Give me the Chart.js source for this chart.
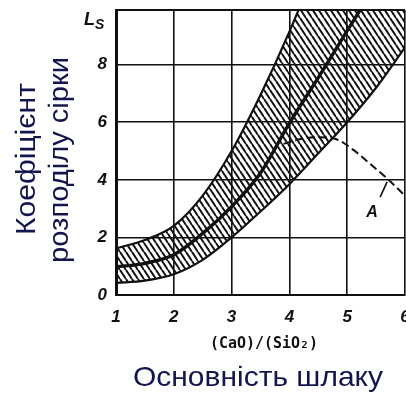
<!DOCTYPE html>
<html>
<head>
<meta charset="utf-8">
<script src="https://cdn.jsdelivr.net/npm/chart.js@4.4.1/dist/chart.umd.min.js"></script>
<style>html,body{margin:0;padding:0;background:#fff}canvas{display:block}</style>
</head>
<body>
<canvas id="lsChart" width="406" height="393"></canvas>
<script>
// basicity (CaO)/(SiO2) and sulphur partition Ls
const basicity=[1,1.5,2,2.5,3,3.5,4,4.5,5,5.5,6];
const lsMid  =[0.98,1.10,1.40,2.14,3.07,4.24,5.97,7.55,9.18,10.8,12.5];
const lsUpper=[1.62,1.91,2.40,3.45,5.00,6.95,9.15,11.6,14.3,17.2,20.2];
const lsLower=[0.42,0.50,0.72,1.22,2.00,2.90,3.85,4.92,6.00,7.20,8.60];
// dashed curve A
const basicityA=[3.9,4.2,4.5,4.8,5.1,5.4,5.7,6.0];
const lsA      =[5.25,5.42,5.48,5.42,5.05,4.55,4.03,3.45];
const xTicks=[1,2,3,4,5,6];
const yTicks=[0,2,4,6,8];
const xMin=1,xMax=6,yMin=0,yMax=9.9;
// label A and its leader, in data units
const labelA={x:5.43,y:2.85};
const leaderA=[[5.69,3.93],[5.57,3.40]];

const INK='#111';
const NAVY='#14144e';

// diagonal hatch for the band
function hatch(){
  const c=document.createElement('canvas');c.width=6;c.height=9;
  const g=c.getContext('2d');
  g.strokeStyle=INK;g.lineWidth=2;
  for(let k=-1;k<=1;k++){g.beginPath();g.moveTo(k*6,0);g.lineTo(k*6+6,9);g.stroke();}
  return g.createPattern(c,'repeat');
}

const pts=(xs,ys)=>xs.map((x,i)=>({x,y:ys[i]}));

function fitText(ctx,txt,cx,by,w,font,color,rot){
  ctx.save();
  ctx.font=font;ctx.fillStyle=color;ctx.textAlign='center';ctx.textBaseline='alphabetic';
  ctx.translate(cx,by);if(rot)ctx.rotate(rot);
  const m=ctx.measureText(txt).width;
  ctx.scale(w/m,1);ctx.fillText(txt,0,0);
  ctx.restore();
}

const annot={
  id:'annot',
  afterDatasetsDraw(chart){
    const{ctx,chartArea:a,scales:{x,y}}=chart;
    ctx.save();
    ctx.strokeStyle=INK;ctx.lineWidth=2;
    ctx.beginPath();ctx.moveTo(a.left,a.top);ctx.lineTo(a.right,a.top);ctx.stroke();
    ctx.lineWidth=1.6;
    ctx.beginPath();
    ctx.moveTo(x.getPixelForValue(leaderA[0][0]),y.getPixelForValue(leaderA[0][1]));
    ctx.lineTo(x.getPixelForValue(leaderA[1][0]),y.getPixelForValue(leaderA[1][1]));
    ctx.stroke();
    ctx.fillStyle=INK;ctx.textAlign='center';ctx.textBaseline='middle';
    ctx.font='italic bold 16px "Liberation Sans",sans-serif';
    ctx.fillText('A',x.getPixelForValue(labelA.x),y.getPixelForValue(labelA.y));
    ctx.restore();
  },
  afterDraw(chart){
    const{ctx}=chart;
    ctx.save();
    ctx.fillStyle=INK;ctx.textBaseline='alphabetic';ctx.textAlign='left';
    ctx.font='italic bold 18px "Liberation Sans",sans-serif';
    ctx.fillText('L',84,25);
    ctx.font='italic bold 14px "Liberation Sans",sans-serif';
    ctx.fillText('S',95,29);
    ctx.restore();
    fitText(ctx,'(CaO)/(SiO₂)',264,348,108,'bold 15px "DejaVu Sans Mono",monospace',INK);
    fitText(ctx,'Основність шлаку',258,386,250,'28px "Liberation Sans",Arial,sans-serif',NAVY);
    fitText(ctx,'Коефіцієнт',35,159,152,'28px "Liberation Sans",Arial,sans-serif',NAVY,-Math.PI/2);
    fitText(ctx,'розподілу сірки',68,160,206,'28px "Liberation Sans",Arial,sans-serif',NAVY,-Math.PI/2);
  }
};

const tickFont={family:'"Liberation Sans",sans-serif',size:17,style:'italic',weight:'bold'};
const curve={fill:false,pointRadius:0,borderColor:INK,cubicInterpolationMode:'monotone'};

new Chart(document.getElementById('lsChart'),{
  type:'line',
  plugins:[annot],
  data:{datasets:[
    {...curve,data:pts(basicity,lsMid),borderWidth:3.4},
    {...curve,data:pts(basicity,lsUpper),borderWidth:2.2,fill:'+1',backgroundColor:hatch()},
    {...curve,data:pts(basicity,lsLower),borderWidth:2.2},
    {...curve,data:pts(basicityA,lsA),borderWidth:2,borderDash:[8,4]}
  ]},
  options:{
    responsive:false,animation:false,
    layout:{padding:{left:0,top:10,right:1,bottom:0}},
    plugins:{legend:{display:false},tooltip:{enabled:false}},
    scales:{
      x:{
        type:'linear',min:xMin,max:xMax,
        afterBuildTicks:s=>{s.ticks=xTicks.map(v=>({value:v}));},
        afterFit:s=>{s.height=98;s.paddingLeft=0;s.paddingRight=0;},
        grid:{color:INK,lineWidth:1.6,drawTicks:false},
        border:{color:INK,width:2},
        ticks:{color:INK,font:tickFont,padding:12,maxRotation:0}
      },
      y:{
        min:yMin,max:yMax,
        afterBuildTicks:s=>{s.ticks=yTicks.map(v=>({value:v}));},
        afterFit:s=>{s.width=116;s.paddingTop=0;s.paddingBottom=0;},
        grid:{color:INK,lineWidth:1.6,drawTicks:false},
        border:{color:INK,width:3},
        ticks:{color:INK,font:tickFont,padding:9}
      }
    }
  }
});
</script>
</body>
</html>
